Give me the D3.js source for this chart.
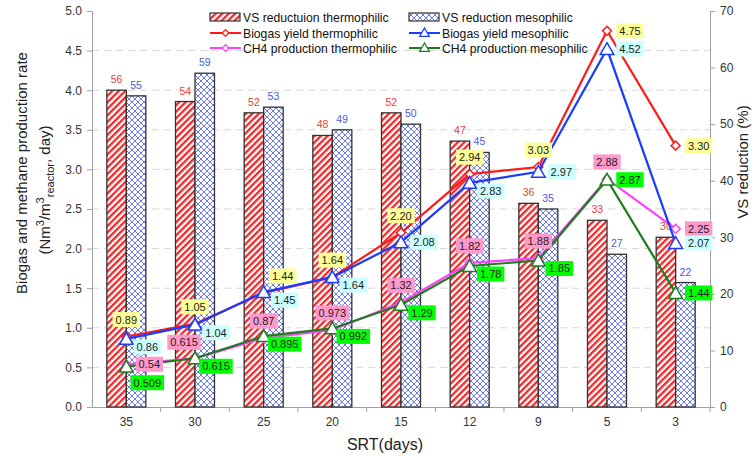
<!DOCTYPE html>
<html>
<head>
<meta charset="utf-8">
<script src="https://cdn.jsdelivr.net/npm/d3@7"></script>
<style>
  body { margin: 0; background: #fff; }
  svg { font-family: "Liberation Sans", Arial, sans-serif; }
</style>
</head>
<body>
<svg id="chart"></svg>
<script>
// Data
const srt = ["35", "30", "25", "20", "15", "12", "9", "5", "3"];
const vsThermo = [56, 54, 52, 48, 52, 47, 36, 33, 30];
const vsMeso = [55, 59, 53, 49, 50, 45, 35, 27, 22];
const biogasThermo = [0.89, 1.05, 1.44, 1.64, 2.20, 2.94, 3.03, 4.75, 3.30];
const biogasMeso = [0.86, 1.04, 1.45, 1.64, 2.08, 2.83, 2.97, 4.52, 2.07];
const ch4Thermo = [0.54, 0.615, 0.87, 0.973, 1.32, 1.82, 1.88, 2.88, 2.25];
const ch4Meso = [0.509, 0.615, 0.895, 0.992, 1.29, 1.78, 1.85, 2.87, 1.44];
const leftTicks = [0, 0.5, 1, 1.5, 2, 2.5, 3, 3.5, 4, 4.5, 5];
const rightTicks = [0, 10, 20, 30, 40, 50, 60, 70];

// where each value box sits relative to its point
const place = {
  t: [0, -17], r: [23, 0], br: [21, 8], bb: [21, 16], tl: [-11, -16], tr: [19, -17]
};

const W = 754, H = 456;
const margin = {top: 11, right: 44, bottom: 49, left: 92};

const svg = d3.select("#chart").attr("width", W).attr("height", H);

const x = d3.scaleBand().domain(srt).range([margin.left, W - margin.right]).padding(0);
const y = d3.scaleLinear().domain([0, 5]).range([H - margin.bottom, margin.top]);
const y2 = d3.scaleLinear().domain([0, 70]).range([H - margin.bottom, margin.top]);

// patterns
const defs = svg.append("defs");
const stripe = defs.append("pattern")
  .attr("id", "stripe")
  .attr("patternUnits", "userSpaceOnUse")
  .attr("width", 4.6).attr("height", 4.6)
  .attr("patternTransform", "rotate(45)");
stripe.append("rect").attr("width", 4.6).attr("height", 4.6).attr("fill", "#fff");
stripe.append("rect").attr("width", 2.3).attr("height", 4.6).attr("fill", "#f0282a");

const hatch = defs.append("pattern")
  .attr("id", "hatch")
  .attr("patternUnits", "userSpaceOnUse")
  .attr("width", 6).attr("height", 6);
hatch.append("rect").attr("width", 6).attr("height", 6).attr("fill", "#fff");
hatch.append("path").attr("d", "M0,0L6,6M6,0L0,6M-1,1L1,-1M5,7L7,5M-1,5L1,7M5,-1L7,1")
  .attr("stroke", "#5a6ae8").attr("stroke-width", 0.9).attr("fill", "none");

// grid lines
svg.append("g")
  .selectAll("line")
  .data(leftTicks.filter(d => d > 0 && d < 5))
  .join("line")
  .attr("x1", margin.left).attr("x2", W - margin.right)
  .attr("y1", d => y(d)).attr("y2", d => y(d))
  .attr("stroke", "#d6d6d6")
  .attr("stroke-dasharray", "7,5");

// axes
const axisColor = "#a0a0a0";
const yAxis = svg.append("g")
  .attr("transform", "translate(" + margin.left + ",0)")
  .call(d3.axisLeft(y).tickValues(leftTicks).tickFormat(d3.format(".1f")).tickSize(5).tickPadding(5));
const yAxis2 = svg.append("g")
  .attr("transform", "translate(" + (W - margin.right) + ",0)")
  .call(d3.axisRight(y2).tickValues(rightTicks).tickSize(5).tickPadding(5));
const xAxis = svg.append("g")
  .attr("transform", "translate(0," + (H - margin.bottom) + ")")
  .call(d3.axisBottom(x).tickSize(0).tickPadding(10));
xAxis.selectAll(".tick")
  .append("line")
  .attr("x1", x.bandwidth() / 2).attr("x2", x.bandwidth() / 2)
  .attr("y1", 0).attr("y2", 5)
  .attr("stroke", axisColor);

[yAxis, yAxis2, xAxis].forEach(g => {
  g.select(".domain").attr("stroke", axisColor);
  g.selectAll(".tick line").attr("stroke", axisColor);
  g.selectAll("text").attr("fill", "#333").style("font-size", "12px");
});

// bars
const bw = 19.5;
svg.append("g")
  .selectAll("rect")
  .data(vsThermo)
  .join("rect")
  .attr("x", (d, i) => x(srt[i]) + x.bandwidth() / 2 - bw)
  .attr("y", d => y2(d))
  .attr("width", bw)
  .attr("height", d => y2(0) - y2(d))
  .attr("fill", "url(#stripe)")
  .attr("stroke", "#333").attr("stroke-width", 1.3);

svg.append("g")
  .selectAll("rect")
  .data(vsMeso)
  .join("rect")
  .attr("x", (d, i) => x(srt[i]) + x.bandwidth() / 2)
  .attr("y", d => y2(d))
  .attr("width", bw)
  .attr("height", d => y2(0) - y2(d))
  .attr("fill", "url(#hatch)")
  .attr("stroke", "#333").attr("stroke-width", 1.3);

svg.append("g")
  .selectAll("text")
  .data(vsThermo)
  .join("text")
  .attr("x", (d, i) => x(srt[i]) + x.bandwidth() / 2 - bw / 2)
  .attr("y", d => y2(d) - 7)
  .attr("text-anchor", "middle")
  .attr("fill", "#e8403c")
  .style("font-size", "10.5px")
  .text(d => d);

svg.append("g")
  .selectAll("text")
  .data(vsMeso)
  .join("text")
  .attr("x", (d, i) => x(srt[i]) + x.bandwidth() / 2 + bw / 2)
  .attr("y", d => y2(d) - 7)
  .attr("text-anchor", "middle")
  .attr("fill", "#4a5ad8")
  .style("font-size", "10.5px")
  .text(d => d);

// lines
const cx = (d, i) => x(srt[i]) + x.bandwidth() / 2;
const diamond = d3.symbol().type(d3.symbolSquare).size(40);
const triangle = d3.symbol().type(d3.symbolTriangle).size(80);

const series = [
  {vals: biogasThermo, color: "#ff1a1a", marker: "diamond", box: "#ffff99", pos: ["t", "t", "tr", "t", "t", "t", "t", "r", "r"]},
  {vals: ch4Thermo, color: "#ff40ff", marker: "diamond", box: "#ff99cc", pos: ["r", "tl", "t", "t", "t", "t", "t", "t", "r"]},
  {vals: biogasMeso, color: "#1a3cff", marker: "triangle", box: "#ccffff", pos: ["br", "br", "br", "br", "r", "br", "r", "r", "r"]},
  {vals: ch4Meso, color: "#1e7d1e", marker: "triangle", box: "#00ff00", pos: ["bb", "br", "br", "br", "br", "br", "br", "r", "r"]}
];

const line = d3.line().x(cx).y(d => y(d));

series.forEach(s => {
  const g = svg.append("g");
  g.append("path")
    .attr("d", line(s.vals))
    .attr("fill", "none")
    .attr("stroke", s.color)
    .attr("stroke-width", 2.2);
  g.selectAll("path.m")
    .data(s.vals)
    .join("path")
    .attr("class", "m")
    .attr("transform", (d, i) => "translate(" + cx(d, i) + "," + (y(d) + (s.marker == "triangle" ? 1.5 : 0)) + ")" + (s.marker == "diamond" ? " rotate(45)" : ""))
    .attr("d", s.marker == "diamond" ? diamond() : triangle())
    .attr("fill", "#fff")
    .attr("stroke", s.color)
    .attr("stroke-width", 1.5);
});

// value boxes
const fmt = v => {
  const dec = (String(v).split(".")[1] || "").length;
  return v.toFixed(Math.max(2, dec));
};

series.forEach(s => {
  const g = svg.append("g");
  s.vals.forEach((v, i) => {
    const off = place[s.pos[i]];
    const lx = cx(v, i) + off[0];
    const ly = y(v) + off[1];
    const t = g.append("text")
      .attr("x", lx).attr("y", ly + 4)
      .attr("text-anchor", "middle")
      .attr("fill", "#222")
      .style("font-size", "11px")
      .text(fmt(v));
    const bb = t.node().getBBox();
    g.insert("rect", function() { return t.node(); })
      .attr("x", bb.x - 3).attr("y", ly - 7.5)
      .attr("width", bb.width + 6).attr("height", 15)
      .attr("fill", s.box);
  });
});

// axis titles
svg.append("text")
  .attr("x", 385).attr("y", 450)
  .attr("text-anchor", "middle")
  .style("font-size", "16px")
  .attr("fill", "#222")
  .text("SRT(days)");

svg.append("text")
  .attr("transform", "translate(748,162) rotate(-90)")
  .attr("text-anchor", "middle")
  .style("font-size", "15px")
  .attr("fill", "#222")
  .text("VS reduction (%)");

svg.append("text")
  .attr("transform", "translate(27,173) rotate(-90)")
  .attr("text-anchor", "middle")
  .style("font-size", "15px")
  .attr("fill", "#222")
  .text("Biogas and methane production rate");

const lt2 = svg.append("text")
  .attr("transform", "translate(50,190) rotate(-90)")
  .attr("text-anchor", "middle")
  .style("font-size", "15px")
  .attr("fill", "#222");
lt2.append("tspan").text("(Nm");
lt2.append("tspan").attr("dy", -6).style("font-size", "11px").text("3");
lt2.append("tspan").attr("dy", 6).text("/m");
lt2.append("tspan").attr("dy", -6).style("font-size", "11px").text("3");
lt2.append("tspan").attr("dy", 10).style("font-size", "11px").text("reactor");
lt2.append("tspan").attr("dy", -4).text(", day)");

// legend
const legend = svg.append("g");
const legendItems = [
  {label: "VS reductuion thermophilic", kind: "bar", fill: "url(#stripe)", col: 0, row: 0},
  {label: "VS reduction mesophilic", kind: "bar", fill: "url(#hatch)", col: 1, row: 0},
  {label: "Biogas yield thermophilic", kind: "line", s: series[0], col: 0, row: 1},
  {label: "Biogas yield mesophilic", kind: "line", s: series[2], col: 1, row: 1},
  {label: "CH4 production thermophilic", kind: "line", s: series[1], col: 0, row: 2},
  {label: "CH4 production mesophilic", kind: "line", s: series[3], col: 1, row: 2}
];
const colX = [210, 409], rowY = [17, 33, 48];

legendItems.forEach(it => {
  const lx = colX[it.col], ly = rowY[it.row];
  if (it.kind == "bar") {
    legend.append("rect")
      .attr("x", lx).attr("y", ly - 4).attr("width", 30).attr("height", 8)
      .attr("fill", it.fill).attr("stroke", "#333").attr("stroke-width", 1.2);
  } else {
    legend.append("line")
      .attr("x1", lx).attr("x2", lx + 31).attr("y1", ly).attr("y2", ly)
      .attr("stroke", it.s.color).attr("stroke-width", 2);
    legend.append("path")
      .attr("transform", "translate(" + (lx + 15.5) + "," + (ly + (it.s.marker == "triangle" ? 0.5 : 0)) + ")" + (it.s.marker == "diamond" ? " rotate(45)" : ""))
      .attr("d", it.s.marker == "diamond" ? d3.symbol().type(d3.symbolSquare).size(22)() : d3.symbol().type(d3.symbolTriangle).size(40)())
      .attr("fill", "#fff").attr("stroke", it.s.color).attr("stroke-width", 1.3);
  }
  legend.append("text")
    .attr("x", lx + 33).attr("y", ly + 4.5)
    .style("font-size", "12.2px")
    .attr("fill", "#111")
    .text(it.label);
});
</script>
</body>
</html>
